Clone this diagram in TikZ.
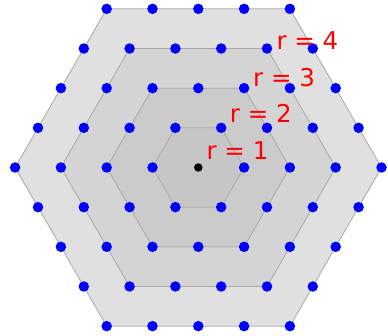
\documentclass[tikz,border=0pt]{standalone}
\usepackage{fontspec}
\setmainfont{DejaVu Sans}
\usepackage{tikz}
\usetikzlibrary{calc}
\definecolor{cRingA}{HTML}{C6C6C6}
\definecolor{cRingB}{HTML}{CBCBCB}
\definecolor{cRingC}{HTML}{D4D4D4}
\definecolor{cRingD}{HTML}{E0E0E0}
\definecolor{cEdge}{HTML}{A8A8A8}
\tikzset{
  hexb/.style={draw=cEdge, line width=0.8pt},
  dotb/.style={circle, fill=blue, inner sep=0pt, minimum size=10.5pt},
  ctrb/.style={circle, fill=black, inner sep=0pt, minimum size=8.5pt},
  lbl/.style={text=red, inner sep=0pt, anchor=base,
              font=\fontsize{24.5}{28}\selectfont},
}
\newcommand{\unitlen}{45.8}

\begin{document}
\begin{tikzpicture}[x=1pt, y=1pt]
    \useasboundingbox (-198.3,-168.5) rectangle (189.7,167.5);
    % shaded hexagons, outer first
    \foreach \r/\c in {4/cRingD, 3/cRingC, 2/cRingB, 1/cRingA}
      \draw[hexb, fill=\c] (0:\r*\unitlen) -- (60:\r*\unitlen) -- (120:\r*\unitlen)
        -- (180:\r*\unitlen) -- (240:\r*\unitlen) -- (300:\r*\unitlen) -- cycle;
    % lattice points on each ring
    \foreach \r in {1,...,4} {
      \pgfmathtruncatemacro{\m}{\r-1}
      \foreach \k in {0,...,5}
        \foreach \j in {0,...,\m}
          \node[dotb] (d\r-\k-\j)
            at ($(\k*60:\r*\unitlen)!\j/\r!(\k*60+60:\r*\unitlen)$) {};
    }
    \node[ctrb] (origin) at (0,0) {};
    % ring labels
    \foreach \r in {1,...,4}
      \node[lbl] (lbl\r) at ({39.2+23.3*(\r-1)}, {8.2+36.5*(\r-1)}) {r = \r};
\end{tikzpicture}
\end{document}
